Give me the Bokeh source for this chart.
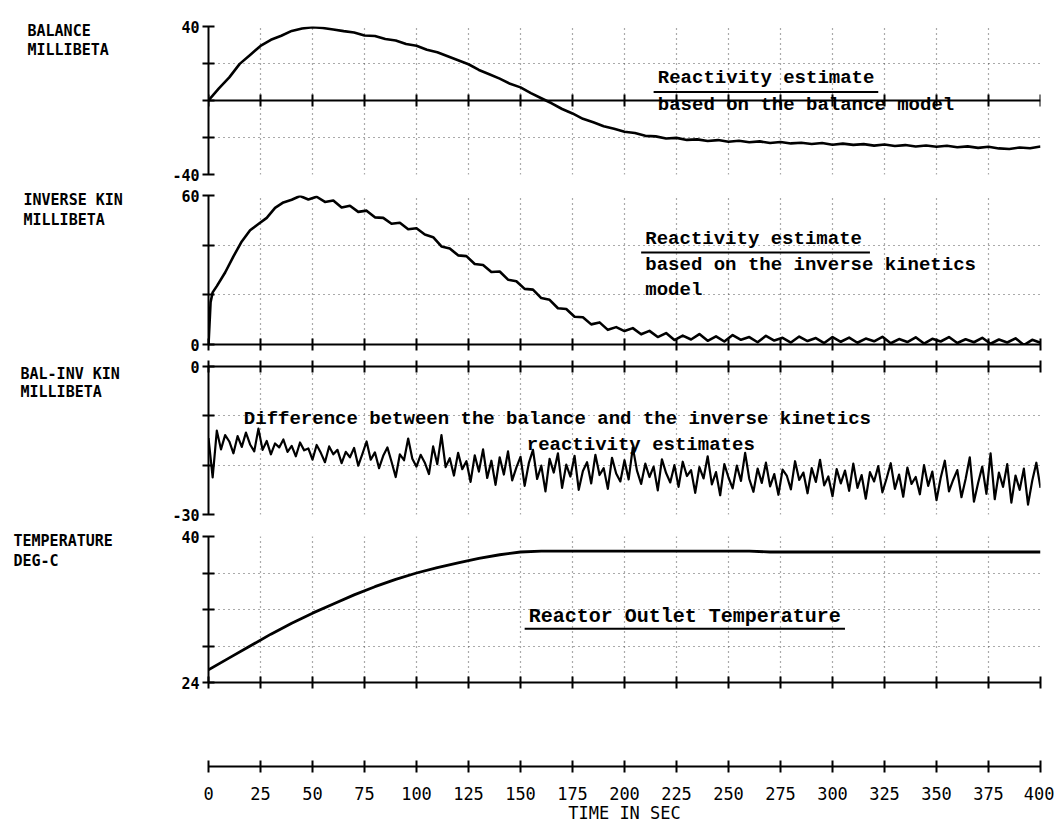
from bokeh.plotting import figure
from bokeh.layouts import column, row
from bokeh.models import Range1d, FixedTicker, Label, Arrow, ColumnDataSource
from bokeh.core.properties import value
from bokeh.embed import file_html
from bokeh.resources import INLINE

# ---------------- data ----------------
time_ticks = list(range(0, 401, 25))

bal_t = list(range(0, 401, 5))
bal_v = [0.0, 6.5, 12.5, 19.8, 24.6, 29.5, 32.8, 35.0, 37.6, 38.9,
         39.6, 39.2, 38.4, 37.5, 36.8, 35.1, 34.9, 33.2, 32.4, 30.5,
         29.6, 27.4, 26.1, 23.9, 21.8, 19.6, 16.5, 14.2, 11.8, 9.0,
         7.1, 4.0, 1.2, -1.5, -4.6, -7.0, -9.9, -11.8, -13.9, -15.3,
         -16.9, -17.6, -19.1, -19.4, -20.5, -20.2, -21.3, -21.0, -21.9, -21.4,
         -22.3, -21.8, -22.6, -22.1, -23.0, -22.4, -23.2, -22.8, -23.5, -23.0,
         -23.9, -23.3, -24.0, -23.6, -24.4, -23.8, -24.6, -24.1, -24.9, -24.3,
         -25.0, -24.5, -25.3, -24.8, -25.6, -25.0, -25.9, -26.2, -25.4, -25.8,
         -24.9]

inv_t = [0, 1, 2] + list(range(4, 401, 4))
inv_v = [0.0, 17.0, 21.0,
         23.5, 29.0, 35.5, 41.5, 46.0, 48.5, 51.0, 55.0, 57.2, 58.3,
         59.8, 58.4, 59.5, 57.4, 58.0, 55.2, 55.9, 53.4, 53.9, 51.2,
         51.0, 48.6, 49.0, 46.4, 46.8, 44.3, 43.2, 39.5, 38.7, 35.9,
         35.6, 32.4, 32.0, 29.2, 29.4, 26.1, 25.5, 22.4, 22.1, 18.7,
         18.0, 14.6, 14.3, 11.2, 11.0, 8.1, 8.9, 5.9, 7.0, 5.4,
         6.6, 4.1, 5.5, 3.0, 4.6, 1.8, 3.6, 2.0, 4.2, 1.5,
         3.3, 1.2, 3.8, 1.9, 3.0, 0.9, 3.5, 1.6, 2.7, 0.8,
         3.2, 1.4, 2.6, 0.6, 3.0, 1.1, 2.8, 0.7, 2.4, 1.3,
         3.1, 0.5, 2.2, 1.0, 2.9, 0.4, 2.3, 1.2, 3.0, 0.6,
         2.1, 0.9, 2.7, 0.3, 2.0, 0.8, 2.5, -0.2, 1.9, 0.7]

diff_t = list(range(0, 401, 2))
diff_v = [-14.5, -22.5, -13.0, -16.8, -13.9, -15.2, -17.6, -14.1, -16.3, -13.4,
          -15.8, -17.2, -12.6, -16.9, -15.1, -17.8, -15.6, -16.4, -14.8, -17.3,
          -16.1, -18.2, -15.4, -17.0, -16.6, -18.9, -15.9, -17.5, -19.4, -16.2,
          -17.8, -16.9, -19.6, -17.3, -18.4, -16.5, -20.1, -17.7, -15.2, -18.9,
          -17.4, -20.6, -18.1, -16.4, -19.3, -22.4, -17.8, -19.0, -14.6, -18.7,
          -20.3, -17.9, -19.5, -21.8, -16.2, -19.8, -13.9, -20.4, -18.6, -22.1,
          -17.5, -20.8, -19.2, -23.4, -18.0, -21.3, -16.8, -22.6, -19.1, -24.0,
          -18.4, -21.9, -17.2, -23.1, -20.5, -18.3, -24.2, -19.6, -16.9, -22.8,
          -20.1, -25.3, -18.7, -21.5, -17.6, -24.6, -19.9, -22.3, -18.1, -25.0,
          -21.2, -19.4, -23.7, -17.9, -22.0, -20.6, -24.8, -18.5, -21.7, -23.3,
          -19.0, -22.9, -16.4, -21.1, -23.8, -19.7, -22.4, -20.3, -25.1, -18.8,
          -21.6, -23.5, -20.0, -24.4, -19.3, -22.2, -21.0, -25.6, -20.4, -22.7,
          -18.2, -23.9, -21.4, -26.1, -19.8, -22.5, -24.7, -20.1, -23.2, -17.5,
          -22.8, -25.4, -20.7, -23.6, -19.5, -24.3, -21.8, -26.0, -20.9, -22.1,
          -24.9, -19.2, -23.0, -21.5, -25.7, -20.6, -23.4, -18.9, -24.1, -22.3,
          -26.3, -20.8, -23.7, -21.1, -25.2, -19.7, -24.6, -22.0, -26.8, -21.4,
          -23.3, -20.2, -25.5, -22.7, -19.6, -24.8, -21.9, -26.4, -20.5, -23.8,
          -22.4, -25.9, -20.0, -24.2, -21.3, -27.1, -22.6, -19.1, -25.3, -23.0,
          -21.0, -26.5, -22.8, -18.4, -27.4, -23.6, -20.3, -25.8, -17.6, -26.9,
          -21.5, -24.4, -19.8, -27.6, -22.1, -25.0, -20.7, -28.0, -23.2, -19.5,
          -24.6]

temp_t = list(range(0, 401, 10))
temp_v = [25.4, 26.7, 28.0, 29.3, 30.5, 31.6, 32.6, 33.6, 34.5, 35.3,
          36.0, 36.6, 37.1, 37.6, 38.0, 38.3, 38.4, 38.4, 38.4, 38.4,
          38.4, 38.4, 38.4, 38.4, 38.4, 38.4, 38.4, 38.3, 38.3, 38.3,
          38.3, 38.3, 38.3, 38.3, 38.3, 38.3, 38.3, 38.3, 38.3, 38.3,
          38.3]

bal_ticks = [-40, -20, 0, 20, 40]
inv_ticks = [0, 20, 40, 60]
diff_ticks = [-30, -20, -10, 0]
temp_ticks = [24, 28, 32, 36, 40]

side_texts = ["BALANCE", "MILLIBETA", "INVERSE KIN", "MILLIBETA",
              "BAL-INV KIN", "MILLIBETA", "TEMPERATURE", "DEG-C"]

# ---------------- styling helpers ----------------
MONO = "DejaVu Sans Mono"
TYPE = "Liberation Mono"
SIDE_W = 150
LEFT = 58
RIGHT = 14
PW = 1054 - SIDE_W


def make_panel(height, btop, bbot, yr, ticks, labelled, grid_ticks, xloc="below"):
    p = figure(width=PW, height=height, x_range=Range1d(0, 400), y_range=Range1d(*yr),
               output_backend="svg", toolbar_location=None,
               min_border_left=LEFT, min_border_right=RIGHT,
               min_border_top=btop, min_border_bottom=bbot,
               x_axis_location=xloc)
    p.outline_line_color = None
    # x axis: solid line with "+" ticks, no labels
    xa = p.xaxis[0]
    xa.ticker = FixedTicker(ticks=time_ticks)
    xa.major_label_overrides = {t: "" for t in time_ticks}
    xa.major_label_text_font_size = "8px"
    xa.major_label_standoff = 0
    xa.major_tick_in = 6
    xa.major_tick_out = 6
    xa.minor_tick_line_color = None
    xa.axis_line_width = 2
    xa.major_tick_line_width = 2
    xa.axis_line_color = "black"
    xa.major_tick_line_color = "black"
    # y axis
    ya = p.yaxis[0]
    ya.ticker = FixedTicker(ticks=ticks)
    ya.major_label_overrides = {t: ("" if t not in labelled else str(t)) for t in ticks}
    ya.major_tick_in = 6
    ya.major_tick_out = 6
    ya.minor_tick_line_color = None
    ya.axis_line_width = 2
    ya.major_tick_line_width = 2
    ya.axis_line_color = "black"
    ya.major_tick_line_color = "black"
    ya.major_label_text_font = MONO
    ya.major_label_text_font_style = "bold"
    ya.major_label_text_font_size = "15px"
    ya.major_label_text_color = "black"
    ya.major_label_standoff = 3
    # dotted grid
    p.xgrid.ticker = FixedTicker(ticks=time_ticks[1:])
    p.ygrid.ticker = FixedTicker(ticks=grid_ticks)
    for g in (p.xgrid[0], p.ygrid[0]):
        g.grid_line_color = "#444444"
        g.grid_line_dash = "1 4"
        g.grid_line_width = 1.2
        g.grid_line_alpha = 0.9
    return p


def note(p, x, y, text, size="19px"):
    p.add_layout(Label(x=x, y=y, text=text, text_font=TYPE, text_font_style="bold",
                       text_font_size=size, text_color="black", text_baseline="middle",
                       text_align="left"))


def underline(p, x0, x1, y):
    p.add_layout(Arrow(x_start=x0, y_start=y, x_end=x1, y_end=y, start=None, end=None,
                       line_width=2, line_color="black"))


# ---------------- panel 1: balance ----------------
p1 = make_panel(185, 26, 11, (-40, 40), bal_ticks, [-40, 40], [-40, -20, 20, 40])
p1.xaxis[0].fixed_location = 0
p1.line(bal_t, bal_v, line_width=2.6, color="black", line_join="round")
note(p1, 216, 11.9, "Reactivity estimate")
underline(p1, 214, 322, 4.6)
note(p1, 216, -2.6, "based on the balance model")

# ---------------- panel 2: inverse kinetics ----------------
p2 = make_panel(170, 10, 11, (0, 60), inv_ticks, [0, 60], [20, 40, 60])
p2.line(inv_t, inv_v, line_width=2.6, color="black", line_join="round")
note(p2, 210, 42.3, "Reactivity estimate")
underline(p2, 208, 318, 37.0)
note(p2, 210, 32.2, "based on the inverse kinetics")
note(p2, 210, 22.1, "model")

# ---------------- panel 3: difference ----------------
p3 = make_panel(170, 11, 11, (-30, 0), diff_ticks, [-30, 0], [-30, -20, -10], xloc="above")
p3.line(diff_t, diff_v, line_width=2.2, color="black", line_join="round")
note(p3, 17, -10.7, "Difference between the balance and the inverse kinetics")
note(p3, 153, -16.0, "reactivity estimates")

# ---------------- panel 4: temperature ----------------
p4 = make_panel(167, 11, 10, (24, 40), temp_ticks, [24, 40], [28, 32, 36, 40])
p4.line(temp_t, temp_v, line_width=2.8, color="black", line_join="round")
note(p4, 154, 31.2, "Reactor Outlet Temperature", size="20px")
underline(p4, 152, 306, 29.9)

# ---------------- time axis ----------------
p5 = figure(width=PW, height=134, x_range=Range1d(0, 400), y_range=Range1d(0, 1),
            output_backend="svg", toolbar_location=None,
            min_border_left=LEFT, min_border_right=RIGHT, min_border_top=4, min_border_bottom=60)
p5.outline_line_color = None
p5.grid.visible = False
p5.yaxis.visible = False
xa = p5.xaxis[0]
xa.ticker = FixedTicker(ticks=time_ticks)
xa.major_tick_in = 6
xa.major_tick_out = 6
xa.minor_tick_line_color = None
xa.axis_line_width = 2
xa.major_tick_line_width = 2
xa.axis_line_color = "black"
xa.major_tick_line_color = "black"
xa.major_label_text_font = MONO
xa.major_label_text_font_size = "17px"
xa.major_label_text_color = "black"
xa.major_label_standoff = 14
xa.axis_label = "TIME IN SEC"
xa.axis_label_text_font = MONO
xa.axis_label_text_font_style = "normal"
xa.axis_label_text_font_size = "17px"
xa.axis_label_text_color = "black"
xa.axis_label_standoff = 0

# ---------------- side titles (canvas-pixel frame) ----------------
TOTAL_H = 185 + 170 + 170 + 167 + 134
side = figure(width=SIDE_W, height=TOTAL_H, x_range=Range1d(0, SIDE_W),
              y_range=Range1d(TOTAL_H, 0), output_backend="svg", toolbar_location=None,
              min_border=0, min_border_left=0, min_border_right=0,
              min_border_top=0, min_border_bottom=0)
side.axis.visible = False
side.grid.visible = False
side.outline_line_color = None
side_src = ColumnDataSource(dict(
    x=[27, 27, 23, 23, 20, 20, 13, 13],
    y=[30, 49, 199, 219, 373, 391, 540, 560],
    text=side_texts))
side.text(x="x", y="y", text="text", source=side_src, text_font=value(MONO),
          text_font_style="bold", text_font_size="15px", text_color="black",
          text_baseline="middle", text_align="left")

layout = row(side, column(p1, p2, p3, p4, p5, spacing=0), spacing=0)
open("out.html", "w").write(file_html(layout, INLINE))
